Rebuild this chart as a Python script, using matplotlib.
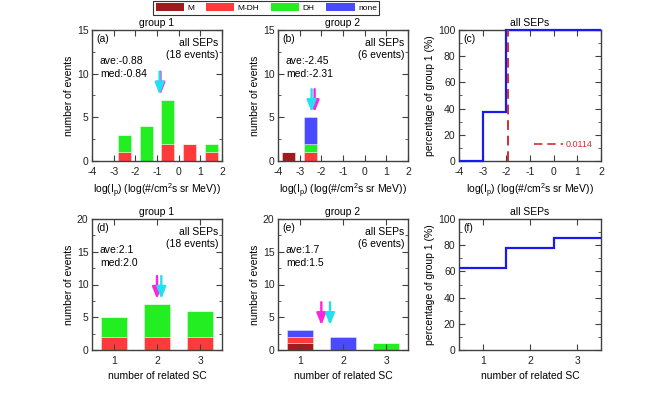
import numpy as np
import matplotlib
matplotlib.use("Agg")
import matplotlib.pyplot as plt
from matplotlib.patches import Patch
from matplotlib.lines import Line2D
from matplotlib.ticker import MultipleLocator, AutoMinorLocator

plt.rcParams['font.family'] = ['Liberation Sans', 'DejaVu Sans']
plt.rcParams['mathtext.default'] = 'regular'
plt.rcParams['axes.unicode_minus'] = False
plt.rcParams['font.size'] = 7.5

# log(Ip) bins, width 1 from -4 to 2
ip_centers = [-3.5, -2.5, -1.5, -0.5, 0.5, 1.5]
g1_ip_M = [0, 0, 0, 0, 0, 0]
g1_ip_MDH = [0, 1, 0, 2, 2, 1]
g1_ip_DH = [0, 2, 4, 5, 0, 1]
g1_ip_none = [0, 0, 0, 0, 0, 0]
g2_ip_M = [1, 0, 0, 0, 0, 0]
g2_ip_MDH = [0, 1, 0, 0, 0, 0]
g2_ip_DH = [0, 1, 0, 0, 0, 0]
g2_ip_none = [0, 3, 0, 0, 0, 0]
ip_edges = [-4, -3, -2, -1, 0, 1, 2]
pct_ip = [0, 37.5, 100, 100, 100, 100]
ip_threshold = 0.0114

# number of related SC
sc_centers = [1, 2, 3]
g1_sc_M = [0, 0, 0]
g1_sc_MDH = [2, 2, 2]
g1_sc_DH = [3, 5, 4]
g1_sc_none = [0, 0, 0]
g2_sc_M = [1, 0, 0]
g2_sc_MDH = [1, 0, 0]
g2_sc_DH = [0, 0, 1]
g2_sc_none = [1, 2, 0]
sc_edges = [0.5, 1.5, 2.5, 3.5]
pct_sc = [62.5, 77.8, 85.7]

# ave / median
stats_a = (-0.88, -0.84)
stats_b = (-2.45, -2.31)
stats_d = (2.1, 2.0)
stats_e = (1.7, 1.5)

cats = ['M', 'M-DH', 'DH', 'none']
colors = ['#A01C1C', '#FF3A3A', '#22EE22', '#4A4AFF']
edge_col = (1, 1, 1, 0.45)
spine_col = '#404040'


def style(ax):
    for s in ax.spines.values():
        s.set_color(spine_col)
        s.set_linewidth(1.0)
    ax.tick_params(which='both', direction='in', top=True, right=True,
                   colors=spine_col, labelcolor='#222222', labelsize=7.5)
    ax.tick_params(which='major', length=4, width=0.8)
    ax.tick_params(which='minor', length=2, width=0.6)
    ax.tick_params(axis='y', pad=2.5)
    ax.tick_params(axis='x', pad=4)


def hist_panel(ax, centers, stacks, stats, ymax, xlim, title, tag, nev):
    bottom = np.zeros(len(centers))
    for vals, c in zip(stacks, colors):
        v = np.array(vals, dtype=float)
        ax.bar(centers, v, width=0.6, bottom=bottom, color=c,
               edgecolor=edge_col, linewidth=0.6)
        bottom += v
    ax.set_xlim(*xlim)
    ax.set_ylim(0, ymax)
    ax.set_title(title, fontsize=7.5, pad=3)
    ax.set_ylabel('number of events', labelpad=2)
    ax.text(0.03, 0.97, tag, transform=ax.transAxes, va='top', ha='left')
    ax.text(0.97, 0.94, 'all SEPs\n(%d events)' % nev, transform=ax.transAxes,
            va='top', ha='right', linespacing=1.3)
    ax.text(0.06, 0.80, 'ave:%s\nmed:%s' % stats[2], transform=ax.transAxes,
            va='top', ha='left', linespacing=1.4)
    # arrows: cyan = average, magenta = median (cyan drawn on top)
    ave, med = stats[0], stats[1]
    edges = np.array(centers) - 0.5
    for x, c in ((med, '#FF22E0'), (ave, '#22E0F0')):
        idx = np.searchsorted(np.append(edges, edges[-1] + 1), x) - 1
        idx = min(max(idx, 0), len(centers) - 1)
        near = bottom[max(idx - 1, 0):idx + 2].max()
        tip = near + 0.04 * ymax
        ax.annotate('', xy=(x, tip), xytext=(x, tip + 0.175 * ymax),
                    arrowprops=dict(arrowstyle='-|>,head_width=0.28,head_length=0.7',
                                    color=c, lw=1.7, mutation_scale=10,
                                    shrinkA=0, shrinkB=0))
    style(ax)


fig = plt.figure(figsize=(6.64, 3.99), dpi=100)
W, H = 664.0, 399.0


def axbox(l, t, r, b):
    return fig.add_axes([l / W, 1 - b / H, (r - l) / W, (b - t) / H])


ax_a = axbox(92, 30, 222, 161)
ax_b = axbox(278, 30, 408, 161)
ax_c = axbox(459, 30, 601, 161)
ax_d = axbox(92, 219, 222, 350)
ax_e = axbox(278, 219, 408, 350)
ax_f = axbox(459, 219, 601, 350)

xl_ip = 'log(I$_{p}$) (log(#/cm$^{2}$s sr MeV))'
xl_sc = 'number of related SC'

hist_panel(ax_a, ip_centers, [g1_ip_M, g1_ip_MDH, g1_ip_DH, g1_ip_none],
           (stats_a[0], stats_a[1], ('-0.88', '-0.84')), 15, (-4, 2), 'group 1', '(a)', 18)
hist_panel(ax_b, ip_centers, [g2_ip_M, g2_ip_MDH, g2_ip_DH, g2_ip_none],
           (stats_b[0], stats_b[1], ('-2.45', '-2.31')), 15, (-4, 2), 'group 2', '(b)', 6)
hist_panel(ax_d, sc_centers, [g1_sc_M, g1_sc_MDH, g1_sc_DH, g1_sc_none],
           (stats_d[0], stats_d[1], ('2.1', '2.0')), 20, (0.5, 3.5), 'group 1', '(d)', 18)
hist_panel(ax_e, sc_centers, [g2_sc_M, g2_sc_MDH, g2_sc_DH, g2_sc_none],
           (stats_e[0], stats_e[1], ('1.7', '1.5')), 20, (0.5, 3.5), 'group 2', '(e)', 6)

for ax in (ax_a, ax_b):
    ax.xaxis.set_major_locator(MultipleLocator(1))
    ax.yaxis.set_major_locator(MultipleLocator(5))
    ax.yaxis.set_minor_locator(AutoMinorLocator(2))
    ax.set_xlabel(xl_ip, labelpad=4)
for ax in (ax_d, ax_e):
    ax.xaxis.set_major_locator(MultipleLocator(1))
    ax.yaxis.set_major_locator(MultipleLocator(5))
    ax.yaxis.set_minor_locator(AutoMinorLocator(2))
    ax.set_xlabel(xl_sc, labelpad=4)

# (c) percentage vs Ip
ax_c.stairs(pct_ip, ip_edges, baseline=None, color='#1A1AF0', lw=1.6,
            clip_on=False, zorder=3)
thr = np.log10(ip_threshold)
ax_c.plot([thr, thr], [0, 100], color='#D03030', lw=1.4, ls=(0, (5, 3)), zorder=4)
ax_c.set_xlim(-4, 2)
ax_c.set_ylim(0, 100)
ax_c.xaxis.set_major_locator(MultipleLocator(1))
ax_c.yaxis.set_major_locator(MultipleLocator(20))
ax_c.yaxis.set_minor_locator(AutoMinorLocator(2))
ax_c.set_title('all SEPs', fontsize=7.5, pad=3)
ax_c.set_ylabel('percentage of group 1 (%)', labelpad=2)
ax_c.set_xlabel(xl_ip, labelpad=4)
ax_c.text(0.03, 0.97, '(c)', transform=ax_c.transAxes, va='top', ha='left')
ax_c.legend(handles=[Line2D([], [], color='#D03030', lw=1.2, ls=(0, (5, 3)))],
            labels=['%.4f' % ip_threshold], loc='lower right', frameon=False,
            bbox_to_anchor=(1.0, 0.03), fontsize=6.5, labelcolor='#D03030',
            handlelength=3.2, handletextpad=0.3)
style(ax_c)

# (f) percentage vs SC
ax_f.stairs(pct_sc, sc_edges, baseline=None, color='#1A1AF0', lw=1.6,
            clip_on=False, zorder=3)
ax_f.set_xlim(0.5, 3.5)
ax_f.set_ylim(0, 100)
ax_f.xaxis.set_major_locator(MultipleLocator(1))
ax_f.yaxis.set_major_locator(MultipleLocator(20))
ax_f.yaxis.set_minor_locator(AutoMinorLocator(2))
ax_f.set_title('all SEPs', fontsize=7.5, pad=3)
ax_f.set_ylabel('percentage of group 1 (%)', labelpad=2)
ax_f.set_xlabel(xl_sc, labelpad=4)
ax_f.text(0.03, 0.97, '(f)', transform=ax_f.transAxes, va='top', ha='left')
style(ax_f)

handles = [Patch(facecolor=c, edgecolor='none') for c in colors]
leg = fig.legend(handles, cats, loc='upper left', bbox_to_anchor=(153 / W, 1 - 1 / H),
                 ncol=4, fontsize=6, frameon=True, fancybox=False,
                 handlelength=3.4, handleheight=1.0, handletextpad=0.4,
                 columnspacing=1.4, borderpad=0.3, borderaxespad=0)
leg.get_frame().set_edgecolor('black')
leg.get_frame().set_linewidth(0.8)

fig.savefig('out.png', dpi=100)
